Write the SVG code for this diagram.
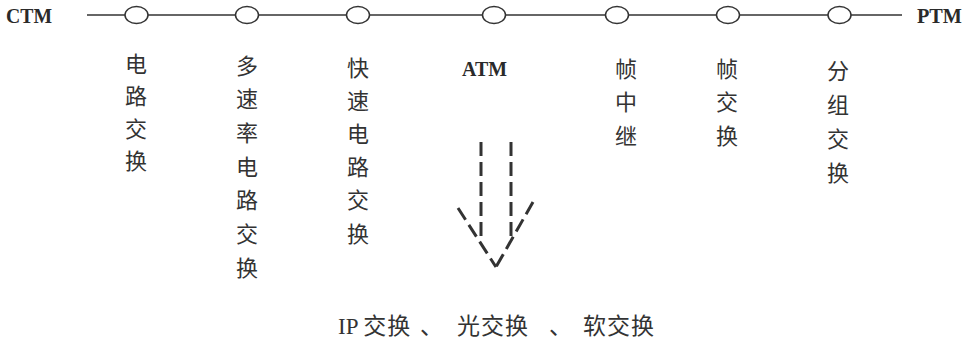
<svg xmlns="http://www.w3.org/2000/svg" width="973" height="343" viewBox="0 0 973 343">
<style>
.lat{font-family:"Liberation Serif",serif;font-weight:bold;font-size:21.5px;fill:#2a2a2a}
.cjk{font-family:"Noto Sans CJK SC","Noto Sans CJK JP",sans-serif;font-size:22px;fill:#333;text-anchor:middle}
.bot{font-family:"Liberation Serif","Noto Sans CJK SC",serif;font-size:23px;fill:#333}
.node ellipse{fill:#fff;stroke:#333;stroke-width:1.5}
.dash{fill:none;stroke:#333;stroke-width:3;stroke-dasharray:14 6}
</style>
<rect width="973" height="343" fill="#fff"/>
<g id="connectors">
<line x1="87" y1="15" x2="902" y2="15" stroke="#333" stroke-width="1.5"/>
<g id="arrow">
<line class="dash" x1="481" y1="142" x2="481" y2="240"/>
<line class="dash" x1="511" y1="142" x2="511" y2="240"/>
<line class="dash" x1="458" y1="208" x2="496" y2="267"/>
<line class="dash" x1="533" y1="202" x2="496" y2="267"/>
</g>
</g>
<g id="ctm"><text class="lat" x="6" y="23" textLength="46" lengthAdjust="spacingAndGlyphs">CTM</text></g>
<g id="ptm"><text class="lat" x="917" y="23" textLength="45" lengthAdjust="spacingAndGlyphs">PTM</text></g>
<g id="n1" class="node"><ellipse cx="136.5" cy="15" rx="11.5" ry="8.5"/>
<text class="cjk"><tspan x="136" y="71.5">电</tspan><tspan x="136" y="104">路</tspan><tspan x="136" y="136.5">交</tspan><tspan x="136" y="169">换</tspan></text></g>
<g id="n2" class="node"><ellipse cx="247" cy="15" rx="11.5" ry="8.5"/>
<text class="cjk"><tspan x="247" y="73.5">多</tspan><tspan x="247" y="107.2">速</tspan><tspan x="247" y="140.9">率</tspan><tspan x="247" y="174.6">电</tspan><tspan x="247" y="208.3">路</tspan><tspan x="247" y="242">交</tspan><tspan x="247" y="275.7">换</tspan></text></g>
<g id="n3" class="node"><ellipse cx="358" cy="15" rx="11.5" ry="8.5"/>
<text class="cjk"><tspan x="358" y="75.5">快</tspan><tspan x="358" y="108.7">速</tspan><tspan x="358" y="141.9">电</tspan><tspan x="358" y="175.1">路</tspan><tspan x="358" y="208.3">交</tspan><tspan x="358" y="241.5">换</tspan></text></g>
<g id="n4" class="node"><ellipse cx="494" cy="15" rx="11.5" ry="8.5"/>
<text class="lat" x="462" y="76" textLength="45" lengthAdjust="spacingAndGlyphs">ATM</text></g>
<g id="n5" class="node"><ellipse cx="617" cy="15" rx="11.5" ry="8.5"/>
<text class="cjk"><tspan x="626" y="76.5">帧</tspan><tspan x="626" y="110">中</tspan><tspan x="626" y="143.5">继</tspan></text></g>
<g id="n6" class="node"><ellipse cx="728" cy="15" rx="11.5" ry="8.5"/>
<text class="cjk"><tspan x="727" y="76.5">帧</tspan><tspan x="727" y="110">交</tspan><tspan x="727" y="143.5">换</tspan></text></g>
<g id="n7" class="node"><ellipse cx="839.5" cy="15" rx="11.5" ry="8.5"/>
<text class="cjk"><tspan x="838" y="78.5">分</tspan><tspan x="838" y="112.5">组</tspan><tspan x="838" y="146.5">交</tspan><tspan x="838" y="180.5">换</tspan></text></g>
<g id="bottom">
<text class="bot" x="338" y="334">IP <tspan font-family="Noto Sans CJK SC" letter-spacing="1">交换</tspan></text>
<text class="bot" x="420" y="334" font-family="Noto Sans CJK SC">、</text>
<text class="bot" x="457" y="334" font-family="Noto Sans CJK SC" letter-spacing="1">光交换</text>
<text class="bot" x="549" y="334" font-family="Noto Sans CJK SC">、</text>
<text class="bot" x="583" y="334" font-family="Noto Sans CJK SC" letter-spacing="1">软交换</text>
</g>
</svg>
